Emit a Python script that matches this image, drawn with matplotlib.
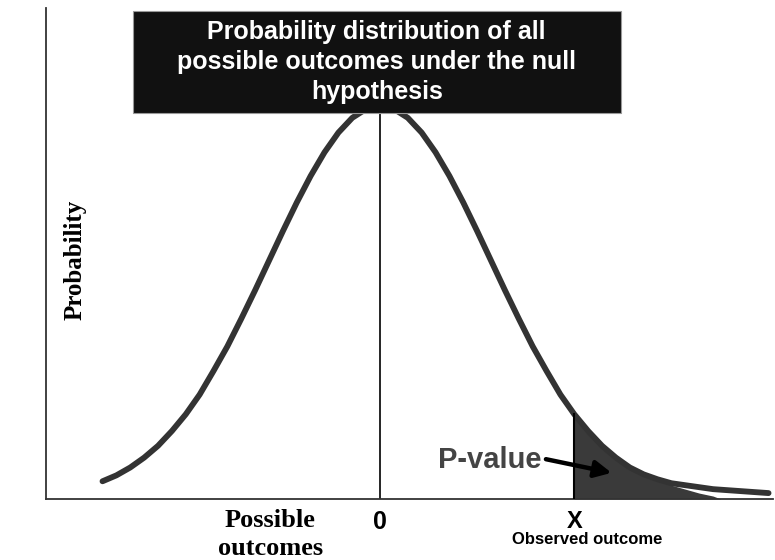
import numpy as np
import matplotlib.pyplot as plt
from matplotlib.patches import Rectangle

# curva (x em desvios padrao, y = densidade)
x_curve = [-2.5, -2.375, -2.25, -2.125, -2.0, -1.875, -1.75, -1.625, -1.5, -1.375,
           -1.25, -1.125, -1.0, -0.875, -0.75, -0.625, -0.5, -0.375, -0.25, -0.125,
           0.0, 0.125, 0.25, 0.375, 0.5, 0.625, 0.75, 0.875, 1.0, 1.125,
           1.25, 1.375, 1.5, 1.625, 1.75, 1.875, 2.0, 2.125, 2.25, 2.375,
           2.5, 2.625, 2.75, 2.875, 3.0, 3.125, 3.25, 3.375, 3.5]
y_curve = [0.018, 0.024, 0.032, 0.042, 0.054, 0.069, 0.086, 0.106, 0.130, 0.155,
           0.183, 0.212, 0.242, 0.272, 0.301, 0.328, 0.352, 0.372, 0.387, 0.396,
           0.400, 0.396, 0.387, 0.372, 0.352, 0.328, 0.301, 0.272, 0.242, 0.212,
           0.183, 0.155, 0.130, 0.106, 0.086, 0.069, 0.054, 0.042, 0.032, 0.025,
           0.020, 0.016, 0.014, 0.012, 0.010, 0.009, 0.008, 0.007, 0.006]

# area sombreada (p-valor)
x_fill = [1.75, 1.875, 2.0, 2.125, 2.25, 2.375, 2.5, 2.625, 2.75, 2.875, 3.0, 3.07]
y_fill = [0.086, 0.069, 0.054, 0.042, 0.032, 0.025, 0.019, 0.014, 0.010, 0.006, 0.003, 0.0]

x_obs = 1.75
y_obs = 0.086
peak = 0.400

title = 'Probability distribution of all\npossible outcomes under the null\nhypothesis'

fig = plt.figure(figsize=(7.75, 5.6), dpi=100)
ax = fig.add_axes([46/775, 61/560, 727/775, 491/560])
ax.set_xlim(-3.009, 3.54)
ax.set_ylim(0, 0.4985)

ax.fill_between(x_fill, y_fill, color='#3a3a3a', lw=0, zorder=2)
ax.plot(x_curve, y_curve, color='#333333', lw=4.2, solid_capstyle='round',
        solid_joinstyle='round', zorder=3)
ax.plot([0, 0], [0, peak], color='black', lw=1.2, zorder=2)
ax.plot([x_obs, x_obs], [0, y_obs], color='black', lw=1.5, zorder=4)

# caixa do titulo
ax.add_patch(Rectangle((-2.225, 0.392), 4.396, 0.1034, facecolor='#111111',
                       edgecolor='#999999', lw=0.8, zorder=5, clip_on=False))
ax.text(-0.03, 0.4435, title, color='white', fontsize=18, fontweight='bold',
        family='Liberation Sans', ha='center', va='center', linespacing=1.32, zorder=6)

# p-valor
ax.annotate('', xy=(2.11, 0.026), xytext=(1.47, 0.041),
            arrowprops=dict(arrowstyle='-|>,head_length=1.0,head_width=0.5',
                            color='black', lw=3.2), zorder=6)
ax.text(0.99, 0.040, 'P-value', color='#444444', fontsize=21, fontweight='bold',
        family='Liberation Sans', ha='center', va='center', zorder=6)

for s in ['top', 'right']:
    ax.spines[s].set_visible(False)
for s in ['left', 'bottom']:
    ax.spines[s].set_color('#333333')
    ax.spines[s].set_linewidth(1.3)
ax.set_xticks([])
ax.set_yticks([])

tr = ax.get_xaxis_transform()
ax.text(0, -0.047, '0', transform=tr, fontsize=18, fontweight='bold',
        family='Liberation Sans', ha='center', va='center')
ax.text(x_obs, -0.045, 'X', transform=tr, fontsize=17, fontweight='bold',
        family='Liberation Sans', ha='center', va='center')
ax.text(x_obs + 0.12, -0.083, 'Observed outcome', transform=tr, fontsize=12,
        fontweight='bold', family='Liberation Sans', ha='center', va='center')
ax.text(-0.99, -0.044, 'Possible', transform=tr, fontsize=19, fontweight='bold',
        family='Liberation Serif', ha='center', va='center')
ax.text(-0.99, -0.100, 'outcomes', transform=tr, fontsize=19, fontweight='bold',
        family='Liberation Serif', ha='center', va='center')

fig.text(75/775, 1 - 260/560, 'Probability', rotation=90, fontsize=18,
         fontweight='bold', family='Liberation Serif', ha='center', va='center')

fig.savefig('out.png', dpi=100, facecolor='white')
